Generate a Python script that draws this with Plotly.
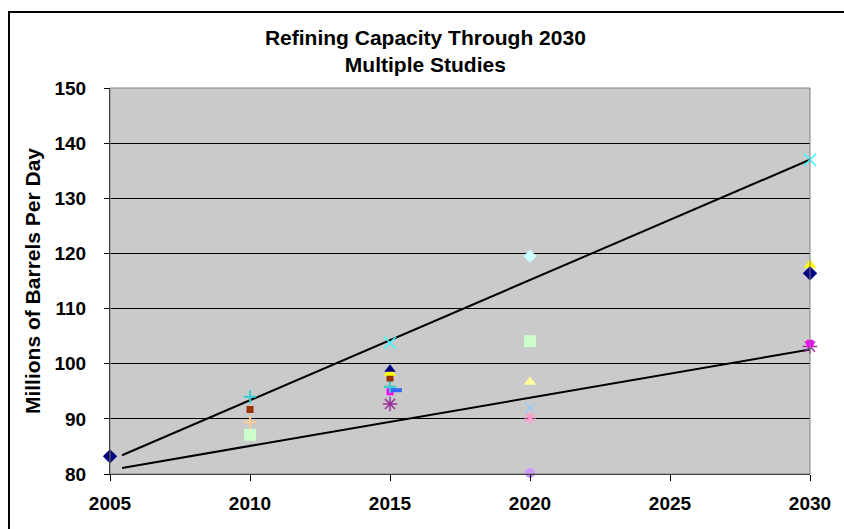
import plotly.graph_objects as go

# ---------------- data ----------------
title_lines = ["Refining Capacity Through 2030", "Multiple Studies"]
y_title = "Millions of Barrels Per Day"
x_ticks = [2005, 2010, 2015, 2020, 2025, 2030]
y_ticks = [80, 90, 100, 110, 120, 130, 140, 150]

# study points (year, value)
navy_diamond_x = [2005, 2030]
navy_diamond_y = [83.2, 116.4]
navy_triangle_x = [2015]
navy_triangle_y = [99.0]
yellow_triangle_x = [2015, 2030]
yellow_triangle_y = [98.3, 117.9]
darkred_square_x = [2010, 2015]
darkred_square_y = [91.7, 97.4]
tan_plus_x = [2010]
tan_plus_y = [89.4]
lightgreen_square_x = [2010, 2020]
lightgreen_square_y = [87.1, 104.1]
teal_plus_x = [2010, 2015]
teal_plus_y = [94.0, 95.8]
cyan_x_x = [2015, 2030]
cyan_x_y = [103.8, 137.0]
blue_dash_x = [2015.2]
blue_dash_y = [95.2]
magenta_square_x = [2015, 2030]
magenta_square_y = [94.9, 103.7]
purple_star_x = [2015, 2030]
purple_star_y = [92.7, 103.1]
lightcyan_diamond_x = [2020]
lightcyan_diamond_y = [119.5]
lightyellow_triangle_x = [2020]
lightyellow_triangle_y = [96.7]
paleblue_x_x = [2020]
paleblue_x_y = [92.0]
rose_star_x = [2020]
rose_star_y = [90.2]
lavender_circle_x = [2020]
lavender_circle_y = [80.2]

# trend lines
trend_x = [2005.43, 2030.32]
upper_trend = [83.4, 137.7]
lower_trend = [81.1, 102.85]

FONT = "Arial, Liberation Sans, sans-serif"

fig = go.Figure()

# trend lines
for ty in (upper_trend, lower_trend):
    fig.add_trace(go.Scatter(x=trend_x, y=ty, mode="lines",
                             line=dict(color="black", width=2),
                             hoverinfo="skip", showlegend=False))

def pts(x, y, symbol, color, size, line_color=None, line_width=0):
    fig.add_trace(go.Scatter(
        x=x, y=y, mode="markers", showlegend=False, cliponaxis=False,
        marker=dict(symbol=symbol, color=color, size=size,
                    line=dict(color=line_color or color, width=line_width))))

pts(lavender_circle_x, lavender_circle_y, "circle", "#CC99FF", 10)
pts(rose_star_x, rose_star_y, "asterisk", "#FF99CC", 10, "#FF99CC", 1.5)
pts(paleblue_x_x, paleblue_x_y, "x-thin", "#99CCFF", 9, "#99CCFF", 1.5)
pts(lightyellow_triangle_x, lightyellow_triangle_y, "triangle-up", "#FFFF99", 11)
pts(lightcyan_diamond_x, lightcyan_diamond_y, "diamond", "#CCFFFF", 10)
pts(lightgreen_square_x, lightgreen_square_y, "square", "#CCFFCC", 12)
pts(tan_plus_x, tan_plus_y, "cross-thin", "#FFCC99", 9, "#FFCC99", 2)
pts(purple_star_x, purple_star_y, "asterisk", "#993399", 12, "#993399", 1.5)
pts(magenta_square_x, magenta_square_y, "square", "#FF00FF", 7)
pts(blue_dash_x, blue_dash_y, "line-ew", "#3366FF", 9, "#3366FF", 4)
pts(teal_plus_x, teal_plus_y, "cross-thin", "#33CCCC", 9, "#33CCCC", 2)
pts(cyan_x_x, cyan_x_y, "x-thin", "#33FFFF", 12, "#33FFFF", 1.5)
pts(darkred_square_x, darkred_square_y, "square", "#993300", 7)
pts(yellow_triangle_x, yellow_triangle_y, "triangle-up", "#FFFF00", 11)
pts(navy_triangle_x, navy_triangle_y, "triangle-up", "#000080", 10)
pts(navy_diamond_x, navy_diamond_y, "diamond", "#000080", 11)

fig.update_layout(
    width=844, height=529,
    margin=dict(l=110, r=34, t=88, b=55),
    paper_bgcolor="white",
    plot_bgcolor="#CACACA",
    font=dict(family=FONT, color="black"),
    title=dict(text="<b>" + title_lines[0] + "</b><br><b>" + title_lines[1] + "</b>",
               x=0.504, xanchor="center", y=0.915, yanchor="middle",
               font=dict(size=21, family=FONT)),
    xaxis=dict(range=[2005, 2030], tickvals=x_ticks, ticktext=[str(v) for v in x_ticks],
               showgrid=False, zeroline=False, showline=True, linecolor="black",
               linewidth=1, ticks="outside", ticklen=6, tickcolor="black",
               ticklabelstandoff=6,
               tickfont=dict(size=19, family=FONT, weight="bold"),
               mirror=False),
    yaxis=dict(range=[80, 150], tickvals=y_ticks, showgrid=True, gridcolor="black",
               gridwidth=1, zeroline=False, showline=True, linecolor="black",
               linewidth=1, ticks="outside", ticklen=5, tickcolor="black",
               ticklabelstandoff=14,
               tickfont=dict(size=19, family=FONT, weight="bold"),
               title=dict(text="<b>" + y_title + "</b>", standoff=8,
                          font=dict(size=21, family=FONT))),
    shapes=[
        # plot area border
        dict(type="rect", xref="paper", yref="paper", x0=0, x1=1, y0=0, y1=1,
             line=dict(color="#808080", width=1), layer="above"),
        # outer chart border
        dict(type="rect", xref="paper", yref="paper", x0=-0.1443, x1=1.2,
             y0=-0.3, y1=1.1969, line=dict(color="black", width=2), layer="below"),
    ],
)

fig.write_html("out.html")
